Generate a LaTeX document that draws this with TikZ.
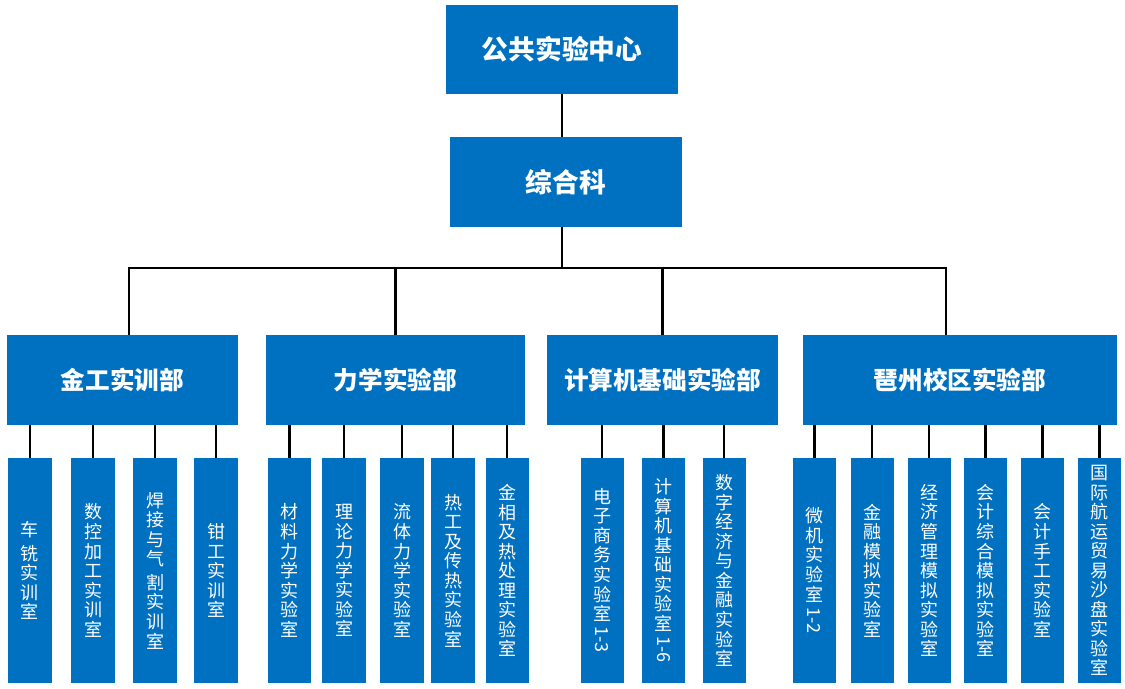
\documentclass[tikz,border=0pt]{standalone}
\usepackage{fontspec}
\setmainfont{Noto Sans CJK SC}
\usepackage{graphicx}
\usepackage{xcolor}
\usepackage{tikz}
\usetikzlibrary{positioning}

\definecolor{boxblue}{HTML}{0070C0}

\tikzset{
  box/.style={fill=boxblue, text=white, inner sep=0pt, align=center},
  head/.style={box, minimum width=5.8cm, minimum height=2.225cm,
    font=\bfseries\fontsize{19}{22}\selectfont},
  dept/.style={box, minimum height=2.25cm,
    font=\bfseries\fontsize{17.5}{20}\selectfont},
  leaf/.style={box, minimum width=1.075cm, minimum height=5.625cm,
    font=\fontsize{12.8}{13.9}\selectfont},
  link/.style={line width=1.9pt, black}
}
% sideways digits inside a vertical label
\newcommand{\sidenum}[1]{\raisebox{0.75em}{\rotatebox{-90}{#1}}}

\begin{document}
\begin{tikzpicture}[x=0.025cm, y=-0.025cm]
  \useasboundingbox (0,0) rectangle (1125,689);
  % top levels
  \node[head] (center) at (562,49.5) {公共实验中心};
  \node[head] (office) at (566,182) {综合科};
  % departments
  \node[dept, minimum width=5.775cm] (jg) at (122.5,380) {金工实训部};
  \node[dept, minimum width=6.475cm] (lx) at (395.5,380) {力学实验部};
  \node[dept, minimum width=5.775cm] (js) at (662.5,380) {计算机基础实验部};
  \node[dept, minimum width=7.85cm] (pz) at (960,380) {琶州校区实验部};
  % bus between office and departments
  \coordinate (bus) at (0,268);
  \coordinate (jgtop) at ([xshift=0.16cm]jg.north);
  \coordinate (pztop) at ([xshift=-0.35cm]pz.north);
  \draw[link] (center.south) -- (center.south |- office.north);
  \draw[link] (center.south |- office.south) -- (center.south |- bus);
  \draw[link] (jgtop) -- (jgtop |- bus) -- (pztop |- bus) -- (pztop);
  \draw[link] (lx.north) -- (lx.north |- bus);
  \draw[link] (js.north) -- (js.north |- bus);
  % laboratories
  \foreach \n/\x/\p/\t in {
    1/30/jg/{车\\[3pt]铣\\实\\训\\室},
    2/93/jg/{数\\控\\加\\工\\实\\训\\室},
    3/155/jg/{焊\\接\\与\\气\\[3pt]割\\实\\训\\室},
    4/216/jg/{钳\\工\\实\\训\\室},
    5/289.5/lx/{材\\料\\力\\学\\实\\验\\室},
    6/344/lx/{理\\论\\力\\学\\实\\验\\室},
    7/402/lx/{流\\体\\力\\学\\实\\验\\室},
    8/453/lx/{热\\工\\及\\传\\热\\实\\验\\室},
    9/507/lx/{金\\相\\及\\热\\处\\理\\实\\验\\室},
    10/602/js/{电\\子\\商\\务\\实\\验\\室\\\sidenum{1-3}},
    11/663.5/js/{计\\算\\机\\基\\础\\实\\验\\室\\\sidenum{1-6}},
    12/724/js/{数\\字\\经\\济\\与\\金\\融\\实\\验\\室},
    13/814.5/pz/{微\\机\\实\\验\\室\\\sidenum{1-2}},
    14/872/pz/{金\\融\\模\\拟\\实\\验\\室},
    15/929/pz/{经\\济\\管\\理\\模\\拟\\实\\验\\室},
    16/985.5/pz/{会\\计\\综\\合\\模\\拟\\实\\验\\室},
    17/1042.5/pz/{会\\计\\手\\工\\实\\验\\室},
    18/1099.5/pz/{国\\际\\航\\运\\贸\\易\\沙\\盘\\实\\验\\室}}{
    \node[leaf] (lab\n) at (\x,570.5) {\t};
    \draw[link] (lab\n.north) -- (lab\n.north |- \p.south);
  }
\end{tikzpicture}
\end{document}
